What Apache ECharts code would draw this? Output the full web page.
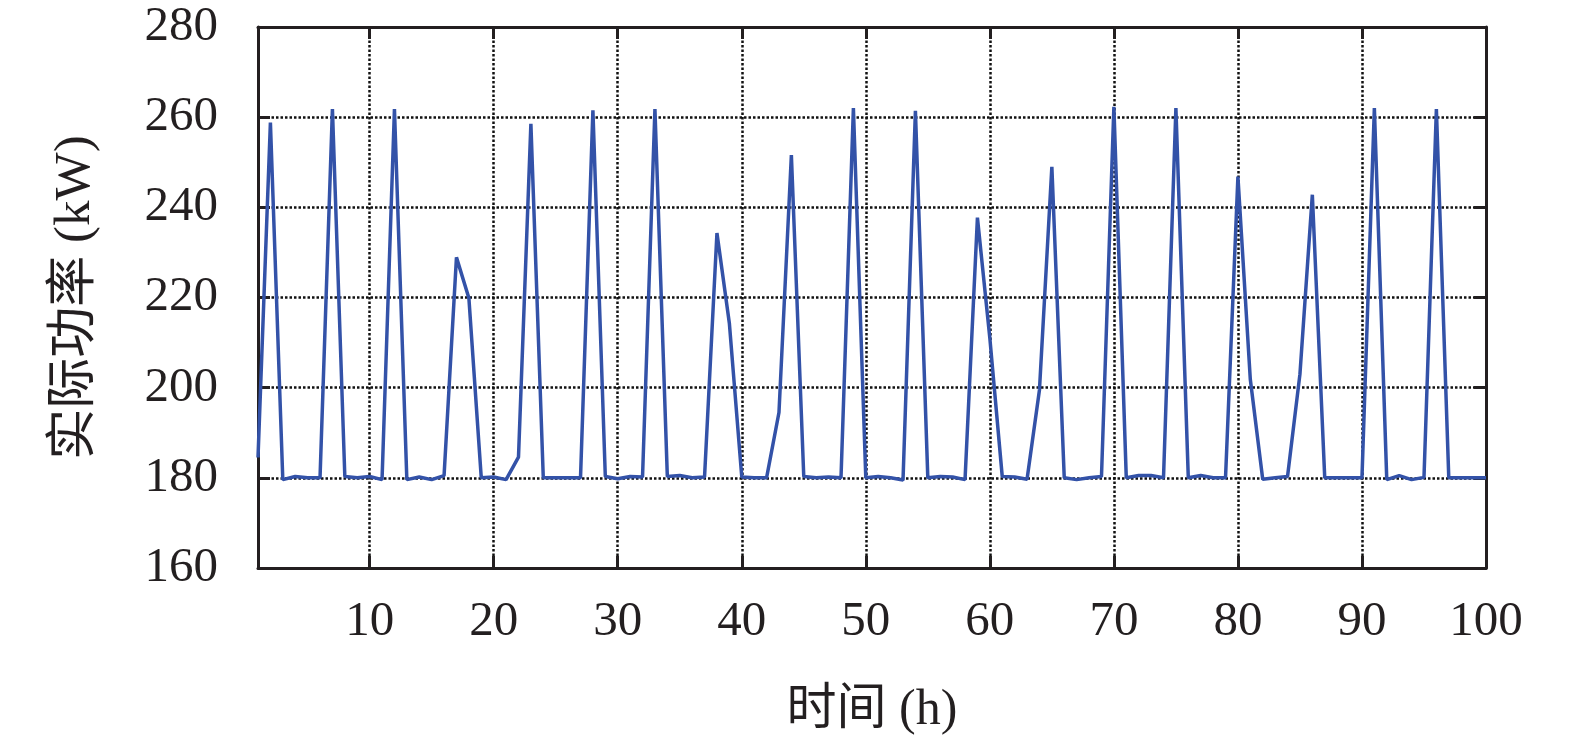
<!DOCTYPE html>
<html><head><meta charset="utf-8">
<script src="https://cdn.jsdelivr.net/npm/echarts@6/dist/echarts.min.js"></script>
<style>html,body{margin:0;padding:0;background:#fff}#c{width:1575px;height:744px}</style>
</head><body><div id="c"></div>
<script>
const hours = [1,2,3,4,5,6,7,8,9,10,11,12,13,14,15,16,17,18,19,20,21,22,23,24,25,26,27,28,29,30,31,32,33,34,35,36,37,38,39,40,41,42,43,44,45,46,47,48,49,50,51,52,53,54,55,56,57,58,59,60,61,62,63,64,65,66,67,68,69,70,71,72,73,74,75,76,77,78,79,80,81,82,83,84,85,86,87,88,89,90,91,92,93,94,95,96,97,98,99,100];
const power = [
  184.5,258.8,179.6,180.3,180,180,261.8,180.3,180,180.3,
  179.6,261.8,179.6,180.2,179.6,180.5,228.9,219.9,180,180.2,
  179.6,184.6,258.5,180,180,180,180,261.5,180.3,179.8,
  180.3,180.2,261.8,180.3,180.5,180,180.2,234.3,214.3,180.2,
  180,180,194.5,251.6,180.3,180,180.2,180,262,180,
  180.3,180,179.5,261.4,180,180.3,180.2,179.6,237.7,211,
  180.3,180.2,179.7,199.5,249,180,179.6,180,180.3,262.3,
  180,180.5,180.5,180,262,180,180.5,180,180,246.8,
  201.8,179.7,180,180.3,203,242.8,180,180,180,180,
  262,179.6,180.5,179.6,180.1,261.8,180,180,180,180
];
const xTickValues = [10,20,30,40,50,60,70,80,90,100];
const yMin = 160, yMax = 280, yStep = 20;
const xName = '时间 (h)';
const yName = '实际功率 (kW)';

const FONT = '"Liberation Serif","Times New Roman","Noto Sans CJK SC",serif';
const INK = '#231f20';
const chart = echarts.init(document.getElementById('c'), null, {renderer:'canvas'});
const border = {show:true, onZero:false, lineStyle:{color:INK, width:3}};
const gridLine = {show:true, lineStyle:{color:'#111', type:[2.5,2], width:2.5}};
const option = {
  animation:false,
  grid:{left:258, right:89, top:27, bottom:176, show:false},
  xAxis:[
    {type:'value', min:1, max:100, position:'bottom',
     name:xName, nameLocation:'middle', nameGap:118,
     nameTextStyle:{fontFamily:FONT, fontSize:50, color:INK},
     axisLine:border,
     axisTick:{show:true, inside:true, length:12, customValues:xTickValues, lineStyle:{color:INK, width:3}},
     axisLabel:{customValues:xTickValues, fontFamily:FONT, fontSize:49, color:INK, margin:30},
     splitLine:gridLine
    },
    {type:'value', min:1, max:100, position:'top',
     axisLine:border,
     axisTick:{show:true, inside:true, length:12, customValues:xTickValues, lineStyle:{color:INK, width:3}},
     axisLabel:{show:false}, splitLine:{show:false}
    }
  ],
  yAxis:[
    {type:'value', min:yMin, max:yMax, interval:yStep, position:'left',
     name:yName, nameLocation:'middle', nameGap:157,
     nameTextStyle:{fontFamily:FONT, fontSize:51, color:INK},
     axisLine:border,
     axisTick:{show:true, inside:true, length:12, lineStyle:{color:INK, width:3}},
     axisLabel:{fontFamily:FONT, fontSize:49, color:INK, margin:40},
     splitLine:gridLine
    },
    {type:'value', min:yMin, max:yMax, interval:yStep, position:'right',
     axisLine:border,
     axisTick:{show:true, inside:true, length:12, lineStyle:{color:INK, width:3}},
     axisLabel:{show:false}, splitLine:{show:false}
    }
  ],
  series:[{
    type:'line', xAxisIndex:0, yAxisIndex:0,
    data: hours.map((h,i)=>[h, power[i]]),
    showSymbol:false, symbol:'none',
    lineStyle:{color:'#3352a8', width:3.5},
    z:5
  }]
};
chart.setOption(option);
</script>
</body></html>
